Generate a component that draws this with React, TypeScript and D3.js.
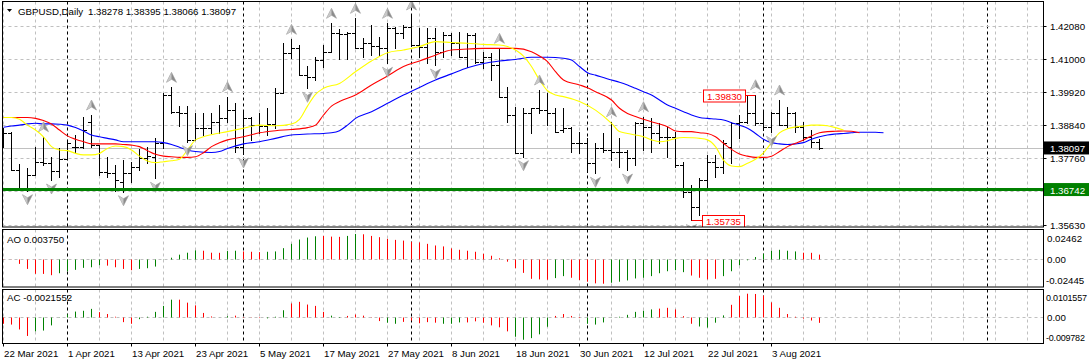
import React from "react";
import * as d3 from "d3";

// GBPUSD daily, 22 Mar 2021 .. 11 Aug 2021 (one bar per weekday)
const opens = [1.38247, 1.38573, 1.37378, 1.36781, 1.37216, 1.37628, 1.37596, 1.37357, 1.37726, 1.38139, 1.38139, 1.38931, 1.38193, 1.37324, 1.3727, 1.36998, 1.3727, 1.37487, 1.37759, 1.37813, 1.38247, 1.39822, 1.39279, 1.39225, 1.38356, 1.38736, 1.38736, 1.38953, 1.39062, 1.39333, 1.38139, 1.39062, 1.38845, 1.38812, 1.38878, 1.39876, 1.41179, 1.41342, 1.40474, 1.40419, 1.40962, 1.41234, 1.41831, 1.41798, 1.41831, 1.41364, 1.41527, 1.41418, 1.41364, 1.41994, 1.41831, 1.42048, 1.41451, 1.41397, 1.41668, 1.41234, 1.41777, 1.41505, 1.41071, 1.41777, 1.40908, 1.41071, 1.40799, 1.39768, 1.3917, 1.37921, 1.39225, 1.39387, 1.39333, 1.39225, 1.38682, 1.38736, 1.38247, 1.38247, 1.37596, 1.38084, 1.3803, 1.37976, 1.37976, 1.37759, 1.38899, 1.38791, 1.38573, 1.38464, 1.38464, 1.37541, 1.36672, 1.36184, 1.37053, 1.3765, 1.37487, 1.38139, 1.38899, 1.38953, 1.39225, 1.38899, 1.38791, 1.39225, 1.38845, 1.39225, 1.38791, 1.38464, 1.38278];
const highs = [1.38736, 1.38606, 1.37563, 1.37433, 1.38139, 1.38464, 1.37813, 1.38084, 1.38302, 1.38519, 1.39117, 1.3917, 1.38193, 1.37813, 1.37541, 1.37705, 1.3765, 1.38062, 1.38139, 1.3841, 1.39898, 1.40072, 1.39463, 1.39463, 1.39225, 1.39246, 1.39225, 1.39496, 1.39768, 1.3955, 1.39333, 1.39117, 1.39225, 1.39387, 1.40039, 1.41527, 1.41636, 1.41451, 1.40767, 1.41071, 1.41451, 1.42157, 1.41961, 1.41885, 1.4232, 1.41668, 1.42103, 1.41722, 1.42157, 1.42048, 1.42103, 1.42428, 1.41994, 1.41994, 1.41994, 1.41885, 1.41831, 1.41885, 1.41831, 1.41831, 1.41234, 1.41201, 1.41342, 1.40093, 1.39442, 1.39387, 1.39387, 1.39985, 1.39876, 1.39387, 1.39387, 1.38791, 1.38628, 1.3841, 1.38247, 1.38595, 1.38953, 1.3841, 1.3803, 1.38953, 1.39117, 1.39062, 1.38899, 1.38791, 1.38628, 1.3765, 1.3689, 1.37107, 1.37868, 1.37868, 1.38356, 1.38953, 1.3917, 1.398, 1.3983, 1.39279, 1.39279, 1.39659, 1.39442, 1.39279, 1.38953, 1.38682, 1.38395];
const lows = [1.38139, 1.37378, 1.36727, 1.36705, 1.37216, 1.37541, 1.37053, 1.37161, 1.37726, 1.37921, 1.38084, 1.38139, 1.37216, 1.37161, 1.367, 1.36672, 1.36998, 1.37378, 1.37596, 1.37107, 1.38084, 1.39225, 1.38812, 1.38302, 1.38356, 1.38519, 1.38573, 1.38573, 1.38953, 1.37976, 1.379, 1.38356, 1.38573, 1.38519, 1.38736, 1.39876, 1.41017, 1.40474, 1.40039, 1.40311, 1.40745, 1.41234, 1.40984, 1.40984, 1.41342, 1.41071, 1.41125, 1.41125, 1.40854, 1.41342, 1.41668, 1.41418, 1.41071, 1.40854, 1.40799, 1.41071, 1.41125, 1.41071, 1.40745, 1.40854, 1.40691, 1.40311, 1.39768, 1.38953, 1.37921, 1.37813, 1.38573, 1.39225, 1.38845, 1.38628, 1.38628, 1.37976, 1.37921, 1.37324, 1.3727, 1.37976, 1.37705, 1.37487, 1.37378, 1.37541, 1.3803, 1.37976, 1.38247, 1.37813, 1.37487, 1.3651, 1.35735, 1.35912, 1.36727, 1.37161, 1.3727, 1.37596, 1.3841, 1.38899, 1.38845, 1.38682, 1.38606, 1.38845, 1.38791, 1.38628, 1.38356, 1.38139, 1.38066];
const closes = [1.38573, 1.37378, 1.36781, 1.37216, 1.3765, 1.37596, 1.37357, 1.37726, 1.38269, 1.38139, 1.38682, 1.38193, 1.37324, 1.3727, 1.37053, 1.3727, 1.37487, 1.37759, 1.37835, 1.38247, 1.39822, 1.39279, 1.39225, 1.38356, 1.38736, 1.38758, 1.38953, 1.39062, 1.39333, 1.38139, 1.39062, 1.38845, 1.38812, 1.38878, 1.39876, 1.41179, 1.41342, 1.40474, 1.40419, 1.40962, 1.41234, 1.41831, 1.41798, 1.41831, 1.41364, 1.41527, 1.41418, 1.41364, 1.41994, 1.41831, 1.42048, 1.41451, 1.41397, 1.41668, 1.41234, 1.41777, 1.41505, 1.41071, 1.41777, 1.40908, 1.41071, 1.40799, 1.39768, 1.3917, 1.37921, 1.39225, 1.39387, 1.39333, 1.39225, 1.38628, 1.38736, 1.38247, 1.38247, 1.37596, 1.38084, 1.3803, 1.37976, 1.37976, 1.37759, 1.38899, 1.38791, 1.38573, 1.38464, 1.38464, 1.37541, 1.36672, 1.36184, 1.37053, 1.3765, 1.37487, 1.38247, 1.38899, 1.38953, 1.39225, 1.38899, 1.38791, 1.39225, 1.38845, 1.39225, 1.38791, 1.38464, 1.3828, 1.38097];

// alligator-style averages: [bar index, price]
const lipsYellow: [number, number][] = [[0, 1.3909], [1, 1.3909], [2, 1.3903], [3, 1.3884], [4, 1.3868], [5, 1.3846], [6, 1.3814], [7, 1.3803], [8, 1.3801], [9, 1.3792], [10, 1.3787], [11, 1.3787], [12, 1.3792], [13, 1.3808], [14, 1.3816], [15, 1.3814], [16, 1.3803], [17, 1.3783], [18, 1.3767], [19, 1.3762], [20, 1.3765], [21, 1.3768], [22, 1.3773], [23, 1.3803], [24, 1.3836], [25, 1.3846], [26, 1.3853], [28, 1.3863], [30, 1.3874], [32, 1.3884], [34, 1.3882], [36, 1.3888], [37, 1.3903], [38, 1.3946], [39, 1.3984], [40, 1.4004], [42, 1.402], [44, 1.4058], [46, 1.4093], [48, 1.412], [50, 1.4129], [52, 1.414], [54, 1.4156], [56, 1.4153], [58, 1.4151], [60, 1.4147], [62, 1.4145], [63, 1.414], [64, 1.4129], [65, 1.4109], [66, 1.4075], [67, 1.4031], [68, 1.3996], [69, 1.3982], [70, 1.3977], [72, 1.3961], [74, 1.3933], [76, 1.389], [77, 1.3863], [78, 1.3857], [79, 1.3852], [80, 1.3846], [81, 1.3836], [82, 1.383], [83, 1.3833], [84, 1.3841], [85, 1.3844], [86, 1.3843], [87, 1.3841], [88, 1.3836], [89, 1.3814], [90, 1.377], [91, 1.3751], [92, 1.3749], [93, 1.376], [94, 1.3773], [95, 1.3794], [96, 1.3827], [97, 1.3859], [98, 1.3872], [99, 1.3878], [100, 1.3881], [101, 1.3884], [102, 1.3884], [103, 1.3882], [104, 1.3876], [105, 1.3868]];
const teethRed: [number, number][] = [[0, 1.3909], [1, 1.3909], [2, 1.3909], [3, 1.3909], [4, 1.3906], [5, 1.3899], [6, 1.3888], [7, 1.3868], [8, 1.3849], [9, 1.3838], [10, 1.383], [11, 1.3823], [12, 1.3823], [13, 1.3823], [14, 1.3823], [15, 1.3821], [16, 1.3819], [17, 1.3814], [18, 1.3801], [19, 1.3789], [20, 1.3783], [21, 1.3781], [22, 1.3779], [23, 1.3779], [24, 1.3781], [25, 1.3794], [26, 1.3814], [27, 1.3827], [28, 1.3836], [30, 1.3846], [32, 1.3859], [34, 1.3866], [36, 1.387], [38, 1.3876], [39, 1.3884], [40, 1.3917], [41, 1.3946], [42, 1.3961], [44, 1.3982], [46, 1.4015], [48, 1.4044], [50, 1.4075], [52, 1.4093], [54, 1.4112], [56, 1.4129], [58, 1.4132], [60, 1.4134], [62, 1.4134], [64, 1.4134], [66, 1.4123], [67, 1.4109], [68, 1.4091], [69, 1.4058], [70, 1.4031], [72, 1.4015], [73, 1.4006], [74, 1.3993], [76, 1.3966], [77, 1.3939], [78, 1.3922], [79, 1.3912], [80, 1.3903], [81, 1.3895], [82, 1.3888], [83, 1.3879], [84, 1.3865], [85, 1.3863], [86, 1.3863], [87, 1.3859], [88, 1.3857], [89, 1.3846], [90, 1.3825], [91, 1.3805], [92, 1.379], [93, 1.3783], [94, 1.3779], [95, 1.3779], [96, 1.3783], [97, 1.3798], [98, 1.3814], [99, 1.3825], [100, 1.3836], [101, 1.3849], [102, 1.3859], [103, 1.3863], [104, 1.3864], [105, 1.3865], [106, 1.3864], [107, 1.3859]];
const jawBlue: [number, number][] = [[0, 1.3877], [1, 1.3881], [2, 1.3884], [3, 1.3888], [4, 1.389], [5, 1.3888], [6, 1.3888], [7, 1.3887], [8, 1.3884], [9, 1.3876], [10, 1.3865], [11, 1.3852], [12, 1.3846], [13, 1.3841], [14, 1.3836], [15, 1.383], [17, 1.383], [19, 1.383], [20, 1.3827], [21, 1.3821], [22, 1.3812], [23, 1.3803], [24, 1.3798], [26, 1.3795], [27, 1.3798], [28, 1.3808], [30, 1.3823], [32, 1.383], [34, 1.3841], [36, 1.3852], [38, 1.3855], [40, 1.3857], [41, 1.3859], [42, 1.3866], [43, 1.3884], [44, 1.3906], [46, 1.3928], [48, 1.3955], [50, 1.3982], [52, 1.4007], [54, 1.4031], [56, 1.4051], [58, 1.4071], [60, 1.4085], [62, 1.4093], [64, 1.4098], [66, 1.4105], [68, 1.4105], [70, 1.4102], [71, 1.4096], [72, 1.4075], [73, 1.4055], [74, 1.4047], [76, 1.4031], [77, 1.4024], [78, 1.4015], [79, 1.4004], [80, 1.3993], [81, 1.3982], [82, 1.3966], [83, 1.395], [84, 1.3939], [85, 1.3928], [86, 1.3917], [87, 1.3909], [88, 1.3906], [89, 1.3904], [90, 1.3901], [91, 1.3892], [92, 1.3884], [93, 1.3874], [94, 1.3857], [95, 1.3838], [96, 1.3827], [97, 1.3823], [98, 1.3821], [99, 1.3823], [100, 1.3827], [101, 1.3838], [102, 1.3846], [103, 1.3852], [104, 1.3855], [105, 1.3857], [106, 1.3859], [107, 1.3861], [108, 1.3861], [109, 1.3861], [110, 1.3859]];

const fractalUp = [5, 11, 21, 28, 36, 41, 44, 48, 51, 62, 67, 76, 80, 94, 97];
const fractalDown = [3, 6, 15, 19, 23, 30, 38, 48, 54, 65, 74, 78, 86, 96];

// Awesome Oscillator and Accelerator, g = rising bar, r = falling bar
const aoValues = [-0.0002, -0.0003, -0.0042, -0.0085, -0.0127, -0.0128, -0.0139, -0.0122, -0.0105, -0.0093, -0.0076, -0.0071, -0.0054, -0.0057, -0.0071, -0.0085, -0.0096, -0.0085, -0.0079, -0.0065, -0.0006, 0.0011, 0.0037, 0.0054, 0.0074, 0.0071, 0.0054, 0.0053, 0.0068, 0.0071, 0.0065, 0.0062, 0.0059, 0.0062, 0.0065, 0.0093, 0.013, 0.0167, 0.0184, 0.0195, 0.0198, 0.0192, 0.019, 0.0198, 0.0215, 0.0212, 0.0198, 0.0187, 0.0173, 0.0164, 0.0158, 0.0147, 0.0142, 0.013, 0.0116, 0.0108, 0.0091, 0.0079, 0.0071, 0.0062, 0.0045, 0.0028, 0.0006, -0.0023, -0.0079, -0.0119, -0.017, -0.0175, -0.0178, -0.0164, -0.0147, -0.0161, -0.0181, -0.0195, -0.0209, -0.0212, -0.0204, -0.0195, -0.0184, -0.0167, -0.0161, -0.0147, -0.0122, -0.0105, -0.0096, -0.0113, -0.0142, -0.0161, -0.0175, -0.017, -0.0147, -0.0105, -0.0054, -0.0011, 0.0017, 0.0045, 0.0071, 0.0079, 0.0071, 0.0065, 0.0054, 0.0053, 0.00375];
const aoColors = "rrrrrrrggggggrrrrggggggggrrrggrrrgggggggrrrggrrrrrrrrrrrrrrrrrrrrrrrrggrrrrrggggggggggrrrrggggggggggrrrrr";
const acValues = [-0.0025, -0.0028, -0.0046, -0.007, -0.0053, -0.005, -0.0031, -0.0001, 0.001, 0.002, 0.0023, 0.003, 0.0018, 0.0011, 0.0001, -0.0019, -0.0025, -0.0008, 0.0001, 0.0019, 0.0041, 0.0064, 0.0064, 0.0053, 0.0043, 0.0015, 0.0002, -0.0002, 0.0003, 0.0005, 0.0, -0.0001, -0.0004, -0.0005, 0.0001, 0.0025, 0.005, 0.0056, 0.0046, 0.0041, 0.0019, 0.0005, 0.0, 0.0004, 0.0009, 0.0005, -0.0003, -0.0015, -0.0021, -0.0025, -0.0018, -0.0013, -0.0023, -0.0019, -0.0021, -0.0025, -0.0025, -0.002, -0.002, -0.0016, -0.0021, -0.0031, -0.0038, -0.0053, -0.0073, -0.0084, -0.0078, -0.0064, -0.0036, 0.0004, 0.0011, 0.0004, -0.0004, -0.0025, -0.0028, -0.002, -0.0001, 0.0001, 0.0008, 0.0019, 0.0023, 0.0028, 0.0031, 0.0034, 0.0028, 0.0003, -0.0025, -0.0035, -0.0039, -0.0021, 0.0006, 0.0045, 0.0078, 0.0086, 0.0085, 0.0079, 0.0054, 0.0034, 0.0011, 0.0001, -0.0006, -0.0013, -0.0021552];
const acColors = "rrrrggggggggrrrrrgggggrrrrrggrrrrgggrrrrrggrrrrrggrrrrrgggrrrrrrgggggrrrrgggggggggrrrrrggggrrrrrrrrrr";

const dateLabels = ["22 Mar 2021", "1 Apr 2021", "13 Apr 2021", "23 Apr 2021", "5 May 2021", "17 May 2021", "27 May 2021", "8 Jun 2021", "18 Jun 2021", "30 Jun 2021", "12 Jul 2021", "22 Jul 2021", "3 Aug 2021"];
const labelEvery = 8;
const gridEvery = 4;
const monthStarts = [8, 30, 51, 73, 95, 123];

const priceTicks = [1.4208, 1.41, 1.3992, 1.3884, 1.3776, 1.3668, 1.356];
const priceTickLabels = ["1.42080", "1.41000", "1.39920", "1.38840", "1.37760", "1.36680", "1.35630"];
const bidPrice = 1.38097;
const supportPrice = 1.36742;
const aoRange = [-0.02445, 0.02462];
const acRange = [-0.009782, 0.0101557];

const W = 1089;
const H = 364;
const font = "'Liberation Sans', Arial, sans-serif";
const GREEN = "#008000";

const main = { top: 1.5, bottom: 227 };
const aoPane = { top: 229.5, bottom: 287 };
const acPane = { top: 289.5, bottom: 343.5 };
const left = 2.5;
const right = 1043.5;

function Fractal({ cx, cy, up }: { cx: number; cy: number; up: boolean }) {
  const s = up ? 1 : -1;
  const d = `M0,${-5 * s} L5,${5 * s} L0,${2 * s} L-5,${5 * s} Z`;
  const half = `M0,${-5 * s} L0,${2 * s} L-5,${5 * s} Z`;
  return (
    <g transform={`translate(${cx},${cy})`}>
      <path d={d} fill="#8c8c8c" stroke="#9a9a9a" strokeWidth={0.6} />
      <path d={half} fill="#c8c8c8" />
    </g>
  );
}

export default function App() {
  const x = d3.scaleLinear().domain([0, 130]).range([3, 3 + 8 * 130]);
  const y = d3.scaleLinear().domain([1.35522, 1.42868]).range([main.bottom, main.top]);
  const yAO = d3.scaleLinear().domain(aoRange).range([aoPane.bottom + 0.5, aoPane.top + 0.8]);
  const yAC = d3.scaleLinear().domain(acRange).range([acPane.bottom, acPane.top]);
  const px = (i: number) => Math.round(x(i)) + 0.5;
  const py = (v: number) => Math.round(y(v)) + 0.5;

  const bars = d3.range(opens.length);
  const gridIdx = d3.range(0, 129, gridEvery);
  const ma = d3.line<[number, number]>().x(d => x(d[0]) + 0.5).y(d => y(d[1])).curve(d3.curveMonotoneX);

  const panes = [main, aoPane, acPane];

  const vGrid = (p: { top: number; bottom: number }, key: string) => (
    <g key={key}>
      {gridIdx.map(i => (
        <line key={i} x1={px(i)} x2={px(i)} y1={p.top} y2={p.bottom} stroke="#c0c0c0" strokeDasharray="3,3" />
      ))}
      {monthStarts.map(i => (
        <line key={"m" + i} x1={px(i)} x2={px(i)} y1={p.top} y2={p.bottom} stroke="#000" strokeDasharray="3,3" />
      ))}
    </g>
  );

  const hi = 94;
  const lo = 86;

  return (
    <svg width={W} height={H} style={{ position: "fixed", left: 0, top: 0, background: "#fff" }} fontFamily={font} fontSize={9.7}>
      <defs>
        {panes.map((p, k) => (
          <clipPath id={"clip" + k} key={k}>
            <rect x={left} y={p.top} width={right - left} height={p.bottom - p.top} />
          </clipPath>
        ))}
      </defs>
      <rect width={W} height={H} fill="#fff" />

      {/* main price pane */}
      <g clipPath="url(#clip0)">
        {vGrid(main, "g0")}
        {priceTicks.map(v => (
          <line key={v} x1={left} x2={right} y1={py(v)} y2={py(v)} stroke="#c0c0c0" strokeDasharray="3,3" />
        ))}
        <line x1={left} x2={right} y1={py(bidPrice)} y2={py(bidPrice)} stroke="#c0c0c0" />
        {bars.map(i => (
          <g key={i} stroke="#000" strokeWidth={1}>
            <line x1={px(i)} x2={px(i)} y1={Math.round(y(highs[i]))} y2={Math.round(y(lows[i])) + 1} />
            <line x1={px(i) - 3.5} x2={px(i)} y1={py(opens[i])} y2={py(opens[i])} />
            <line x1={px(i)} x2={px(i) + 3.5} y1={py(closes[i])} y2={py(closes[i])} />
          </g>
        ))}
        <path d={ma(jawBlue) || ""} fill="none" stroke="#0000ff" strokeWidth={1.1} />
        <path d={ma(teethRed) || ""} fill="none" stroke="#ff0000" strokeWidth={1.1} />
        <path d={ma(lipsYellow) || ""} fill="none" stroke="#ffff00" strokeWidth={1.1} />
        {fractalUp.map(i => <Fractal key={"u" + i} cx={px(i)} cy={y(highs[i]) - 10} up />)}
        {fractalDown.map(i => <Fractal key={"d" + i} cx={px(i)} cy={y(lows[i]) + 9} up={false} />)}
        <line x1={left} x2={right} y1={y(supportPrice)} y2={y(supportPrice)} stroke={GREEN} strokeWidth={3} />

        {/* high / low price labels */}
        <line x1={px(hi) - 10} x2={px(hi)} y1={py(highs[hi])} y2={py(highs[hi])} stroke="#ff0000" />
        <rect x={px(hi) - 52} y={py(highs[hi]) - 5.5} width={42} height={12} fill="#fff" stroke="#ff0000" />
        <text x={px(hi) - 31} y={py(highs[hi]) + 4} fill="#ff0000" textAnchor="middle">{highs[hi].toFixed(5)}</text>
        <line x1={px(lo)} x2={px(lo) + 11} y1={py(lows[lo])} y2={py(lows[lo])} stroke="#ff0000" />
        <rect x={px(lo) + 11} y={py(lows[lo]) - 5} width={42} height={12} fill="#fff" stroke="#ff0000" />
        <text x={px(lo) + 32} y={py(lows[lo]) + 4.5} fill="#ff0000" textAnchor="middle">{lows[lo].toFixed(5)}</text>
      </g>
      <rect x={left} y={main.top} width={right - left} height={main.bottom - main.top} fill="none" stroke="#000" />
      <path d="M7,9 L12,9 L9.5,12 Z" fill="#000" />
      <text x={18} y={14.5} fill="#000">GBPUSD,Daily</text>
      <text x={88} y={14.5} fill="#000">
        {[opens, highs, lows, closes].map(a => a[a.length - 1].toFixed(5)).join(" ")}
      </text>

      {/* price axis */}
      {priceTicks.map((v, k) => (
        <g key={v}>
          <line x1={right} x2={right + 3} y1={py(v)} y2={py(v)} stroke="#000" />
          <text x={1050} y={y(v) + 4} fill="#000">{priceTickLabels[k]}</text>
        </g>
      ))}
      <rect x={1044} y={y(bidPrice) - 6.5} width={45} height={13} fill="#000" />
      <text x={1050} y={y(bidPrice) + 4} fill="#fff">{bidPrice.toFixed(5)}</text>
      <rect x={1044} y={y(supportPrice) - 6.5} width={45} height={13} fill={GREEN} />
      <text x={1050} y={y(supportPrice) + 4} fill="#fff">{supportPrice.toFixed(5)}</text>

      {/* AO pane */}
      <g clipPath="url(#clip1)">
        {vGrid(aoPane, "g1")}
        <line x1={left} x2={right} y1={Math.round(yAO(0)) + 0.5} y2={Math.round(yAO(0)) + 0.5} stroke="#c0c0c0" strokeDasharray="3,3" />
        {aoValues.map((v, i) => (
          <line key={i} x1={px(i)} x2={px(i)} y1={Math.round(yAO(0)) + 0.5} y2={yAO(v)} stroke={aoColors[i] === "g" ? GREEN : "#ff0000"} />
        ))}
      </g>
      <rect x={left} y={aoPane.top} width={right - left} height={aoPane.bottom - aoPane.top} fill="none" stroke="#000" />
      <text x={7} y={242.5} fill="#000">AO {aoValues[aoValues.length - 1].toFixed(6)}</text>
      <text x={1047} y={aoPane.top + 12} fill="#000">{aoRange[1].toFixed(5)}</text>
      <text x={1047} y={yAO(0) + 4} fill="#000">0.00</text>
      <text x={1046} y={aoPane.bottom - 3} fill="#000">{aoRange[0].toFixed(5)}</text>

      {/* AC pane */}
      <g clipPath="url(#clip2)">
        {vGrid(acPane, "g2")}
        <line x1={left} x2={right} y1={Math.round(yAC(0)) + 0.5} y2={Math.round(yAC(0)) + 0.5} stroke="#c0c0c0" strokeDasharray="3,3" />
        {acValues.map((v, i) => (
          <line key={i} x1={px(i)} x2={px(i)} y1={Math.round(yAC(0)) + 0.5} y2={yAC(v)} stroke={acColors[i] === "g" ? GREEN : "#ff0000"} />
        ))}
      </g>
      <rect x={left} y={acPane.top} width={right - left} height={acPane.bottom - acPane.top} fill="none" stroke="#000" />
      <text x={7} y={300.5} fill="#000">AC {acValues[acValues.length - 1].toFixed(7)}</text>
      <text x={1046} y={acPane.top + 11} fill="#000" fontSize={9} letterSpacing={-0.2}>{acRange[1].toFixed(7)}</text>
      <text x={1047} y={yAC(0) + 4} fill="#000">0.00</text>
      <text x={1046} y={acPane.bottom - 3} fill="#000" fontSize={9} letterSpacing={-0.2}>{acRange[0].toFixed(6)}</text>

      {/* time axis */}
      {dateLabels.map((t, k) => {
        const xi = px(k * labelEvery);
        return (
          <g key={t}>
            <line x1={xi} x2={xi} y1={acPane.bottom} y2={acPane.bottom + 3} stroke="#000" />
            <text x={xi + 0.5} y={357} fill="#000">{t}</text>
          </g>
        );
      })}
    </svg>
  );
}
